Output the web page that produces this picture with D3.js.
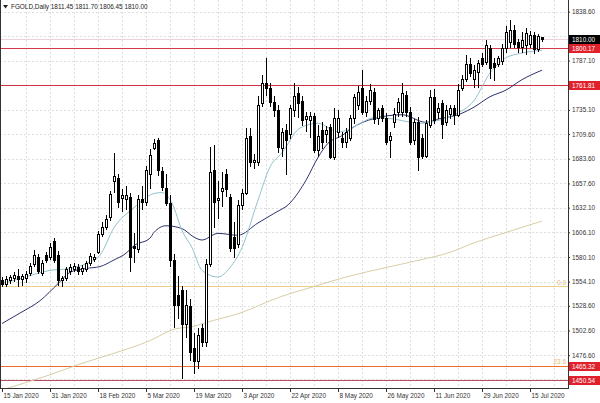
<!DOCTYPE html>
<html><head><meta charset="utf-8">
<script src="https://cdn.jsdelivr.net/npm/d3@7"></script>
<style>
html,body{margin:0;padding:0;background:#fff;}
svg{display:block;}
text{font-family:"Liberation Sans",Arial,sans-serif;}
</style></head>
<body>
<svg id="c" width="600" height="403"></svg>
<script>
// ---------- data ----------
const title = "FGOLD,Daily";
const lastOHLC = ["1811.45", "1811.70", "1806.45", "1810.00"];
const dateLabels = ["15 Jan 2020","31 Jan 2020","18 Feb 2020","5 Mar 2020","19 Mar 2020","3 Apr 2020","22 Apr 2020","8 May 2020","26 May 2020","11 Jun 2020","29 Jun 2020","15 Jul 2020"];
const dateLabelBars = [0,12,24,36,48,60,72,84,96,108,120,132];
const gridPrices = [1838.60,1812.60,1787.10,1761.10,1735.10,1709.60,1683.60,1657.60,1632.10,1606.10,1580.10,1554.10,1528.60,1502.60,1476.60,1451.10];
const priceTicks = [1838.60,1787.10,1735.10,1709.60,1683.60,1657.60,1632.10,1606.10,1580.10,1554.10,1528.60,1502.60,1476.60];

const opens = [1556,1552,1556,1558,1560,1557,1558,1563,1573,1580,1563,1582,1580,1597,1582,1556,1558,1565,1567,1570,
1565,1567,1574,1578,1585,1604,1612,1622,1660,1663,1642,1641,1643,1592,1588,1641,1638,1668,1695,1703,
1671,1653,1637,1577,1540,1545,1510,1528,1484,1470,1505,1490,1573,1672,1640,1650,1668,1643,1601,1594,
1635,1648,1708,1680,1680,1742,1763,1758,1743,1735,1695,1714,1710,1735,1753,1745,1726,1724,1729,1693,
1714,1710,1717,1685,1712,1705,1701,1705,1727,1740,1758,1733,1745,1754,1727,1737,1727,1703,1722,1733,
1733,1751,1733,1703,1722,1706,1687,1719,1749,1733,1742,1722,1731,1737,1730,1758,1768,1784,1768,1775,
1790,1786,1800,1785,1784,1787,1800,1807,1819,1807,1801,1803,1805,1814,1799,1811.45];
const highs = [1559,1560,1561,1564,1567,1562,1565,1574,1587,1583,1577,1585,1595,1600,1586,1560,1570,1573,1574,1573,
1572,1576,1584,1583,1608,1617,1624,1650,1690,1668,1652,1655,1648,1605,1645,1655,1676,1694,1704,1706,
1675,1668,1645,1583,1560,1550,1545,1536,1500,1505,1510,1578,1696,1698,1660,1670,1673,1646,1617,1640,
1652,1716,1716,1689,1750,1772,1790,1763,1750,1740,1716,1720,1740,1763,1759,1750,1733,1733,1732,1719,
1722,1718,1720,1737,1735,1712,1716,1730,1752,1760,1777,1750,1762,1758,1737,1740,1732,1712,1737,1748,
1763,1755,1738,1725,1728,1710,1724,1756,1757,1742,1746,1740,1740,1740,1762,1772,1793,1790,1782,1788,
1795,1809,1804,1790,1792,1805,1824,1830,1825,1810,1817,1821,1818,1817,1815,1811.70];
const lows = [1548,1549,1552,1554,1548,1550,1553,1560,1570,1562,1560,1574,1577,1574,1550,1549,1555,1561,1564,1561,
1561,1564,1571,1575,1583,1601,1609,1618,1648,1632,1628,1630,1564,1574,1584,1630,1634,1652,1693,1665,
1650,1634,1570,1505,1515,1451,1495,1470,1457,1462,1485,1485,1570,1611,1620,1633,1643,1585,1579,1590,
1630,1645,1675,1673,1676,1738,1750,1738,1728,1690,1685,1666,1704,1728,1727,1718,1712,1705,1690,1685,
1694,1700,1683,1682,1705,1695,1695,1702,1720,1735,1730,1728,1740,1720,1719,1722,1698,1684,1716,1728,
1728,1728,1698,1698,1671,1683,1684,1716,1720,1725,1704,1718,1725,1719,1728,1755,1765,1770,1758,1758,
1780,1782,1768,1766,1780,1782,1795,1800,1800,1795,1795,1793,1800,1794,1796,1806.45];
const closes = [1552,1557,1559,1561,1557,1560,1562,1571,1582,1565,1574,1577,1591,1577,1556,1558,1567,1570,1571,1565,
1569,1574,1581,1580,1604,1612,1620,1646,1665,1638,1645,1645,1580,1590,1641,1638,1672,1688,1700,1672,
1654,1637,1577,1530,1530,1510,1530,1480,1470,1498,1491,1573,1670,1638,1642,1653,1652,1590,1590,1635,
1648,1706,1680,1682,1740,1763,1758,1743,1735,1696,1712,1703,1737,1750,1742,1724,1729,1729,1693,1708,
1701,1714,1685,1727,1727,1701,1712,1727,1749,1754,1733,1745,1756,1726,1735,1727,1701,1708,1731,1743,
1753,1733,1701,1722,1685,1687,1721,1749,1724,1737,1720,1735,1737,1730,1756,1768,1784,1774,1777,1785,
1784,1803,1779,1780,1790,1800,1817,1819,1805,1801,1809,1816,1814,1799,1813,1810.00];

// moving averages (bar index, price)
const maFastBars   = [0,5,12,17,21,24.5,28,33,38,40,42.5,45,47.5,50,54,57,60,64,67,70,74.5,79,84,86.5,90,93,97,104.5,109,113,118,122,126,130,135];
const maFastValues = [1552,1558,1566,1568,1573,1582,1611,1632,1647,1648,1637,1608,1590,1566,1559,1569,1590,1640,1675,1690,1716,1721,1712,1714,1722,1727,1726,1721,1724,1730,1745,1774,1790,1795,1798];
const maMidBars    = [0,4.5,9.5,14,17,21,24.5,28,31,33,37,38,41,45,48,50,54,59,64,68,72,76,79,81.5,85,87.5,93,100,106,109.5,114,118,122,126,130,135];
const maMidValues  = [1510,1521,1534,1552,1564,1568,1570,1577,1584,1592,1600,1606,1613,1610,1601,1598,1605,1603,1616,1626,1637,1661,1685,1700,1708,1716,1726,1730,1722,1726,1730,1738,1749,1756,1767,1777];
const maSlowBars   = [0,12,20,29,37,43,48,51,59.5,69.5,78,86,96,104.5,112,118,126,135];
const maSlowValues = [1440,1456,1468,1480,1492,1504,1507,1511,1521,1538,1549,1559,1569,1577,1585,1595,1606,1618];

const levelLines = [
  {price:1810.00, color:"#ecd3d6", label:"1810.00", box:"#000000"},
  {price:1800.17, color:"#d23a4c", label:"1800.17", box:"#e0202a"},
  {price:1761.81, color:"#d0303f", label:"1761.81", box:"#e0202a"},
  {price:1465.32, color:"#f06a2a", label:"1465.32", box:"#e0202a"},
  {price:1450.54, color:"#b85062", label:"1450.54", box:"#e0202a"}
];
const fibLevels = [{price:1549.4, label:"0.0", line:true}, {price:1465.32, label:"23.6", line:false}];

// ---------- layout ----------
const W = 600, H = 403;
const plotRight = 568, plotBottom = 388;
const nBars = closes.length;
const x = d3.scaleLinear().domain([0, nBars - 1]).range([2, 2 + 4 * (nBars - 1)]);
const y = d3.scaleLinear().domain([1476.6, 1838.6]).range([355.2, 11.7]);
const fontSize = 6.4;

const svg = d3.select("#c");
const plot = svg.append("g");
svg.append("defs").append("clipPath").attr("id","clip")
  .append("rect").attr("x",0).attr("y",0).attr("width",plotRight).attr("height",plotBottom);

// grid
const gridG = plot.append("g").attr("shape-rendering","crispEdges");
const vGrid = d3.range(6, nBars + 24, 6).map(i => x(i)).filter(v => v < plotRight - 2);
gridG.selectAll("line.v").data(vGrid).join("line")
  .attr("x1", d => Math.round(d) + 0.5).attr("x2", d => Math.round(d) + 0.5)
  .attr("y1", 0).attr("y2", plotBottom)
  .attr("stroke", "#dedede").attr("stroke-dasharray", "2,2");
gridG.selectAll("line.h").data(gridPrices).join("line")
  .attr("x1", 0).attr("x2", plotRight)
  .attr("y1", d => Math.round(y(d)) + 0.5).attr("y2", d => Math.round(y(d)) + 0.5)
  .attr("stroke", "#dedede").attr("stroke-dasharray", "2,2");

// fib line
const fibG = plot.append("g");
fibG.selectAll("line").data(fibLevels.filter(d => d.line)).join("line")
  .attr("x1", 0).attr("x2", plotRight)
  .attr("y1", d => Math.round(y(d.price)) + 0.5).attr("y2", d => Math.round(y(d.price)) + 0.5)
  .attr("stroke", "#f0cf8a").attr("stroke-width", 1);
fibG.selectAll("text").data(fibLevels).join("text")
  .attr("x", plotRight - 2).attr("y", d => y(d.price) - 1.5)
  .attr("text-anchor", "end").attr("font-size", fontSize).attr("fill", "#e2b978")
  .text(d => d.label);

// level lines
plot.append("g").selectAll("line").data(levelLines).join("line")
  .attr("x1", 0).attr("x2", plotRight)
  .attr("y1", d => Math.round(y(d.price)) + 0.5).attr("y2", d => Math.round(y(d.price)) + 0.5)
  .attr("stroke", d => d.color).attr("stroke-width", 1);

// moving averages
const maG = plot.append("g").attr("clip-path","url(#clip)").attr("fill","none");
function maLine(bars, vals, color){
  const pts = bars.map((b,i) => [x(b), y(vals[i])]);
  maG.append("path").attr("d", d3.line().curve(d3.curveMonotoneX)(pts))
    .attr("stroke", color).attr("stroke-width", 1);
}
maLine(maSlowBars, maSlowValues, "#d9cda6");
maLine(maMidBars, maMidValues, "#2e3470");
maLine(maFastBars, maFastValues, "#93c3cc");

// candles
const cg = plot.append("g").attr("shape-rendering","crispEdges");
const idx = d3.range(nBars);
cg.selectAll("line.w").data(idx).join("line")
  .attr("x1", i => Math.round(x(i)) + 0.5).attr("x2", i => Math.round(x(i)) + 0.5)
  .attr("y1", i => y(highs[i])).attr("y2", i => y(lows[i]))
  .attr("stroke", "#000");
cg.selectAll("rect").data(idx).join("rect")
  .attr("x", i => Math.round(x(i)) - 0.5)
  .attr("width", 2)
  .attr("y", i => Math.round(y(Math.max(opens[i], closes[i]))) + 0.5)
  .attr("height", i => Math.max(1, Math.round(y(Math.min(opens[i], closes[i]))) - Math.round(y(Math.max(opens[i], closes[i])))))
  .attr("fill", i => closes[i] >= opens[i] ? "#fff" : "#000")
  .attr("stroke", "#000").attr("stroke-width", 1);

// frame / axes
const ax = svg.append("g").attr("shape-rendering","crispEdges");
ax.append("line").attr("x1",0.5).attr("x2",0.5).attr("y1",0).attr("y2",plotBottom).attr("stroke","#333");
ax.append("line").attr("x1",plotRight+0.5).attr("x2",plotRight+0.5).attr("y1",0).attr("y2",plotBottom+1).attr("stroke","#333");
ax.append("line").attr("x1",0).attr("x2",plotRight+1).attr("y1",plotBottom+0.5).attr("y2",plotBottom+0.5).attr("stroke","#333");

// right axis labels
const yAxis = d3.axisRight(y).tickValues(priceTicks).tickSize(2).tickFormat(d3.format(".2f"));
const yg = svg.append("g").attr("transform", `translate(${plotRight},0)`).call(yAxis);
yg.select(".domain").remove();
yg.selectAll("line").attr("stroke","#333");
yg.selectAll("text").attr("font-size", fontSize).attr("fill","#333").attr("x", 4)
  .attr("font-family", '"Liberation Sans",Arial,sans-serif');

// bottom axis labels
const xAxis = d3.axisBottom(x).tickValues(dateLabelBars).tickSize(4).tickFormat((d,i) => dateLabels[i]);
const xg = svg.append("g").attr("transform", `translate(0,${plotBottom})`).call(xAxis);
xg.select(".domain").remove();
xg.selectAll("line").attr("stroke","#333");
xg.selectAll("text").attr("font-size", fontSize).attr("fill","#333")
  .attr("text-anchor","start").attr("x", 1).attr("y", 5)
  .attr("font-family", '"Liberation Sans",Arial,sans-serif');

// price boxes on the axis
const bx = svg.append("g");
levelLines.forEach(d => {
  const yy = y(d.price);
  bx.append("rect").attr("x", plotRight + 1).attr("y", Math.round(yy) - 4).attr("width", W - plotRight - 1).attr("height", 9)
    .attr("fill", d.box);
  bx.append("text").attr("x", plotRight + 4).attr("y", Math.round(yy) + 0.5).attr("dominant-baseline","central")
    .attr("font-size", fontSize).attr("fill", "#fff").text(d.label);
});

// header
svg.append("path").attr("d", d3.line()([[3,5],[8,5],[5.5,8.5]]) + "Z").attr("fill","#222");
svg.append("text").attr("x", 11).attr("y", 9).attr("font-size", fontSize).attr("fill","#222")
  .text(title + "  " + lastOHLC.join(" "));
</script>
</body></html>
